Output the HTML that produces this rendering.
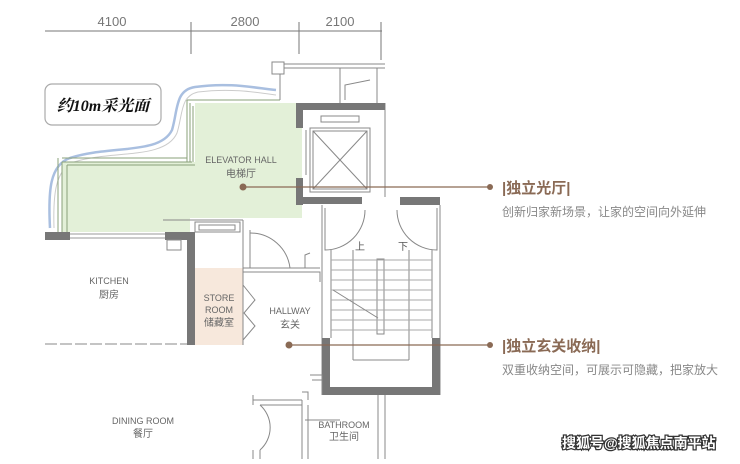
<!DOCTYPE html>
<html><head><meta charset="utf-8"><style>
body{margin:0;background:#fff;}
svg text{font-family:"Liberation Sans","Noto Sans CJK SC",sans-serif;}
</style></head><body>
<svg width="740" height="459" viewBox="0 0 740 459" xmlns="http://www.w3.org/2000/svg">
<!-- dimension line -->
<g stroke="#777" stroke-width="1" fill="none">
<line x1="45" y1="31" x2="382" y2="31"/>
<line x1="191" y1="22" x2="191" y2="54"/>
<line x1="299" y1="22" x2="299" y2="54"/>
<line x1="381" y1="22" x2="381" y2="60"/>
</g>
<g font-size="13" fill="#777" text-anchor="middle">
<text x="112" y="26">4100</text><text x="245" y="26">2800</text><text x="340" y="26">2100</text>
</g>
<!-- blue curve -->
<path d="M50,228 C48,190 50,165 70,158 C110,145 160,155 172,130 C178,110 175,90 195,87 C230,82 255,88 276,90" stroke="#a9bfe0" stroke-width="2.5" fill="none"/>
<path d="M54,228 C53,195 55,170 74,162 C112,150 165,160 177,133 C183,114 180,96 198,92 C230,88 255,92 276,95" stroke="#ccc" stroke-width="1" fill="none"/>
<!-- text box -->
<rect x="45" y="84" width="116" height="41" rx="7" fill="#fff" stroke="#aaa" stroke-width="1.2"/>
<text x="103" y="111" font-size="16" font-weight="bold" font-style="italic" text-anchor="middle" style="font-family:'Liberation Serif','Noto Serif CJK SC',serif" fill="#111">约10m采光面</text>
<!-- green area -->
<polygon points="195,103 302,103 302,218 190,218 190,232 62,232 62,162 195,162" fill="#e3f0d8"/>
<path d="M187,100 L280,100 M187,100 L187,162 M190,103 L190,162 M193,106 L193,162 M62,158 L187,158 M62,162 L192,162 M67,165 L195,165 M58,158 L58,232 M62,162 L62,232 M67,165 L67,232" stroke="#8aa07a" stroke-width="1" fill="none"/>
<rect x="45" y="232" width="25" height="8" fill="#777"/>
<line x1="70" y1="234" x2="165" y2="234" stroke="#999"/><line x1="70" y1="238" x2="165" y2="238" stroke="#999"/>
<!-- upper small rooms -->
<g stroke="#888" fill="none" stroke-width="1">
<rect x="272" y="62" width="12" height="12"/>
<line x1="284" y1="64" x2="385" y2="64"/><line x1="284" y1="68" x2="385" y2="68"/>
<line x1="280" y1="74" x2="280" y2="100"/>
<line x1="340" y1="68" x2="340" y2="103"/>
<line x1="377" y1="68" x2="377" y2="103"/>
<path d="M345,100 L345,85 L370,80"/>
<line x1="385" y1="103" x2="385" y2="197"/>
</g>
<!-- elevator walls -->
<rect x="296" y="103" width="89" height="7" fill="#777"/>
<rect x="296" y="103" width="7" height="25" fill="#777"/>
<rect x="296" y="178" width="7" height="27" fill="#777"/>
<rect x="302" y="197" width="60" height="7" fill="#777"/>
<rect x="400" y="197" width="40" height="8" fill="#777"/>
<g stroke="#888" fill="none" stroke-width="1">
<rect x="321" y="116" width="38" height="6"/>
<rect x="310" y="128" width="60" height="64"/>
<rect x="313" y="131" width="54" height="58"/>
<line x1="313" y1="131" x2="367" y2="189"/><line x1="367" y1="131" x2="313" y2="189"/>
<line x1="306" y1="130" x2="306" y2="175"/>
<!-- stair -->
<line x1="322" y1="205" x2="322" y2="395"/><line x1="440" y1="205" x2="440" y2="395"/>
<path d="M325,208 L325,250 A40,40 0 0 0 365,210"/>
<path d="M437,208 L437,250 A40,40 0 0 1 397,210"/>
<line x1="331" y1="250" x2="331" y2="338"/><line x1="432" y1="250" x2="432" y2="338"/>
<line x1="353" y1="250" x2="353" y2="360"/><line x1="409" y1="250" x2="409" y2="360"/>
<line x1="353" y1="360" x2="409" y2="360"/>
<rect x="377" y="259" width="7" height="75"/>
<g stroke="#aaa">
<line x1="331" y1="260" x2="432" y2="260"/><line x1="331" y1="270" x2="432" y2="270"/>
<line x1="331" y1="280" x2="432" y2="280"/><line x1="331" y1="290" x2="432" y2="290"/>
<line x1="331" y1="300" x2="432" y2="300"/><line x1="331" y1="310" x2="432" y2="310"/>
<line x1="331" y1="320" x2="432" y2="320"/><line x1="331" y1="330" x2="432" y2="330"/>
</g>
<path d="M333,290 L378,318"/>
</g>
<path d="M322,338 L322,395 L440,395 L440,338 L432,338 L432,387 L330,387 L330,338 Z" fill="#777"/>
<text x="355" y="250" font-size="10" fill="#555">上</text><text x="398" y="250" font-size="10" fill="#555">下</text>
<!-- kitchen / store -->
<rect x="187" y="232" width="8" height="113" fill="#777"/>
<rect x="165" y="232" width="30" height="8" fill="#777"/>
<rect x="195" y="268" width="48" height="77" fill="#f7e8dc"/>
<g stroke="#888" fill="none" stroke-width="1">
<rect x="167" y="240" width="14" height="10"/>
<rect x="195" y="222" width="45" height="10"/>
<rect x="199" y="225" width="36" height="5"/>
<line x1="163" y1="220" x2="243" y2="220"/>
<line x1="243" y1="220" x2="243" y2="268"/>
<line x1="250" y1="230" x2="250" y2="268"/>
<path d="M250,233 A40,40 0 0 1 290,268"/>
<path d="M243,268 L320,268 M305,268 L305,255 L310,253 M243,272 L320,272 L320,282"/>
<path d="M243,285 L255,300 L244,313 L255,326 L243,340"/>
<line x1="243" y1="268" x2="243" y2="345"/>
<line x1="45" y1="344" x2="187" y2="344" stroke-dasharray="12,3"/>
<!-- bathroom area -->
<path d="M253,395 L253,400 L302,400 M260,405 L302,405 M253,405 L253,395"/>
<path d="M302,400 L302,459 M308,405 L308,459 M302,392 L308,392 L308,400 M310,375 L322,375 L322,395 M312,380 L322,380"/>
<path d="M260,405 A30,30 0 0 1 260,450 M253,450 L253,459 M260,450 L260,459"/>
<path d="M378,395 L378,459 M385,395 L385,459 M305,420 L340,420"/>
</g>
<!-- labels -->
<g font-size="9" fill="#666" text-anchor="middle">
<text x="241" y="163">ELEVATOR HALL</text><text x="241" y="177" font-size="10">电梯厅</text>
<text x="109" y="284">KITCHEN</text><text x="109" y="298" font-size="10">厨房</text>
<text x="219" y="301">STORE</text><text x="219" y="313">ROOM</text><text x="219" y="326" font-size="10">储藏室</text>
<text x="290" y="314">HALLWAY</text><text x="290" y="328" font-size="10">玄关</text>
<text x="143" y="424">DINING  ROOM</text><text x="143" y="437" font-size="10">餐厅</text>
<text x="344" y="428">BATHROOM</text><text x="344" y="440" font-size="10">卫生间</text>
</g>
<!-- callouts -->
<g stroke="#8a6a55" stroke-width="1.3"><line x1="243" y1="187" x2="490" y2="187"/><line x1="289" y1="345" x2="490" y2="345"/></g>
<g fill="#8a6a55"><circle cx="243" cy="187" r="3.5"/><circle cx="490" cy="187" r="3"/><circle cx="289" cy="345" r="3.5"/><circle cx="490" cy="345" r="3"/></g>
<text x="502" y="193" font-size="15" font-weight="bold" fill="#8a6a55">|独立光厅|</text>
<text x="502" y="216" font-size="12" fill="#888">创新归家新场景，让家的空间向外延伸</text>
<text x="502" y="351" font-size="15" font-weight="bold" fill="#8a6a55">|独立玄关收纳|</text>
<text x="502" y="374" font-size="12" fill="#888">双重收纳空间，可展示可隐藏，把家放大</text>
<text x="562" y="448" font-size="14" font-weight="bold" fill="#fff" stroke="#333" stroke-width="2.5" paint-order="stroke">搜狐号@搜狐焦点南平站</text>
</svg>
</body></html>
